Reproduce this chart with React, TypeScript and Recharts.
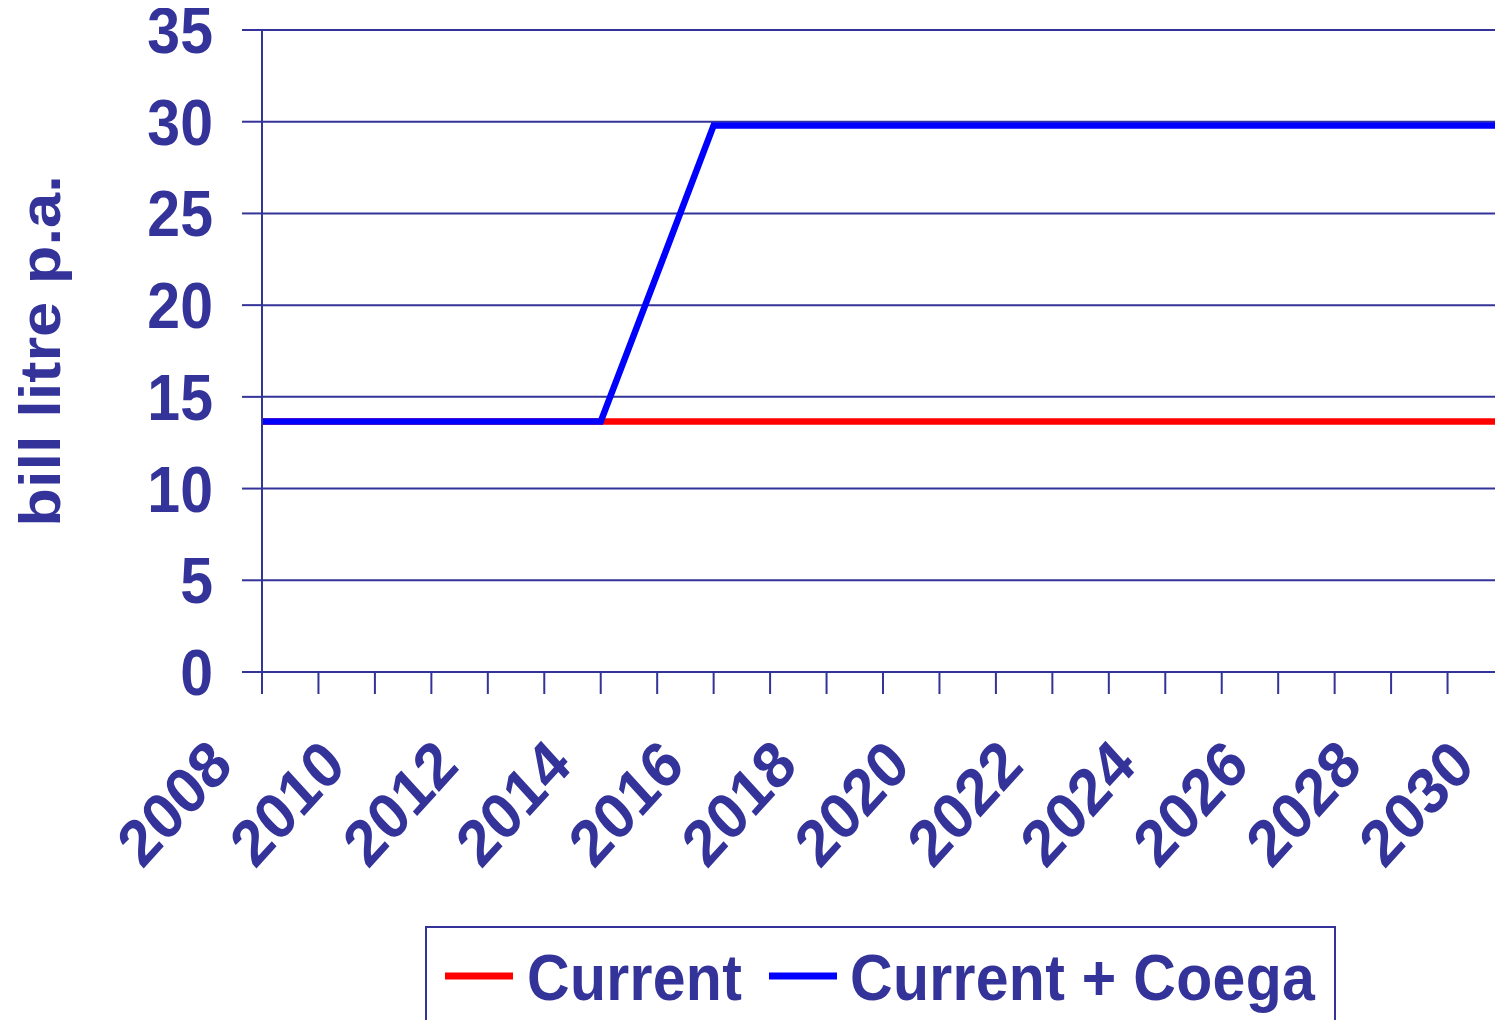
import React from 'react';
import { LineChart, Line, XAxis, YAxis, CartesianGrid, Legend } from 'recharts';

const years = [
  '2008', '2009', '2010', '2011', '2012', '2013', '2014', '2015', '2016', '2017', '2018', '2019',
  '2020', '2021', '2022', '2023', '2024', '2025', '2026', '2027', '2028', '2029', '2030',
];
const currentValues = [
  13.65, 13.65, 13.65, 13.65, 13.65, 13.65, 13.65, 13.65, 13.65, 13.65, 13.65, 13.65,
  13.65, 13.65, 13.65, 13.65, 13.65, 13.65, 13.65, 13.65, 13.65, 13.65, 13.65,
];
const coegaValues = [
  13.65, 13.65, 13.65, 13.65, 13.65, 13.65, 13.65, 21.7, 29.8, 29.8, 29.8, 29.8,
  29.8, 29.8, 29.8, 29.8, 29.8, 29.8, 29.8, 29.8, 29.8, 29.8, 29.8,
];
const yTicks = [0, 5, 10, 15, 20, 25, 30, 35];
const labelledYears = ['2008', '2010', '2012', '2014', '2016', '2018', '2020', '2022', '2024', '2026', '2028', '2030'];
const seriesNames = ['Current', 'Current + Coega'];
const seriesColors = ['#FF0000', '#0000FF'];
const yAxisTitle = 'bill litre p.a.';

const data = years.map((year, i) => ({
  year,
  current: currentValues[i],
  coega: coegaValues[i],
}));

const NAVY = '#333399';
const FONT = '"Liberation Sans", Arial, sans-serif';
const FONT_SIZE = 59;
const STRETCH = 1.1;

const YTick = (props: any) => {
  const { x, y, payload } = props;
  return (
    <g transform={`translate(${x},${y + 23}) scale(1,${STRETCH})`}>
      <text x={0} y={0} textAnchor="end" fill={NAVY} fontFamily={FONT} fontWeight="bold" fontSize={FONT_SIZE}>
        {payload.value}
      </text>
    </g>
  );
};

const XTick = (props: any) => {
  const { x, y, payload } = props;
  if (!labelledYears.includes(String(payload.value))) return <g />;
  return (
    <g transform={`translate(${x - 27},${y}) scale(1,${STRETCH}) rotate(-45)`}>
      <text x={0} y={0} textAnchor="end" fill={NAVY} fontFamily={FONT} fontWeight="bold" fontSize={FONT_SIZE}>
        {payload.value}
      </text>
    </g>
  );
};

const YLabel = (props: any) => {
  const vb = props.viewBox || { x: 0, y: 22, width: 254, height: 642 };
  const cx = vb.x + 52;
  const cy = vb.y + vb.height / 2;
  return (
    <g transform={`translate(${cx},${cy}) scale(1,${STRETCH}) rotate(-90)`}>
      <text x={0} y={0} textAnchor="middle" fill={NAVY} fontFamily={FONT} fontWeight="bold" fontSize={57.5}>
        {yAxisTitle}
      </text>
    </g>
  );
};

const legendLayout = [
  { lineX1: 20, lineX2: 88, textX: 102 },
  { lineX1: 344, lineX2: 412, textX: 425 },
];

const renderLegend = (props: any) => {
  const items = props.payload || [];
  return (
    <svg width={912} height={110} style={{ display: 'block' }}>
      <rect x={1} y={1} width={909} height={300} fill="none" stroke={NAVY} strokeWidth={2} />
      {items.map((item: any, i: number) => {
        const pos = legendLayout[i] || legendLayout[0];
        return (
          <g key={i}>
            <line x1={pos.lineX1} x2={pos.lineX2} y1={50} y2={50} stroke={item.color} strokeWidth={7} />
            <g transform={`translate(${pos.textX},74) scale(1,${STRETCH})`}>
              <text x={0} y={0} fill={NAVY} fontFamily={FONT} fontWeight="bold" fontSize={FONT_SIZE} letterSpacing={0.3}>
                {item.value}
              </text>
            </g>
          </g>
        );
      })}
    </svg>
  );
};

export default function App() {
  return (
    <div
      style={{
        position: 'absolute',
        left: 0,
        top: 0,
        width: 1495,
        height: 1020,
        overflow: 'hidden',
        background: '#fff',
      }}
    >
      <div style={{ position: 'absolute', left: 8, top: 8 }}>
        <LineChart
          width={1520}
          height={1100}
          data={data}
          margin={{ top: 22, right: 24, bottom: 286, left: 0 }}
        >
          <CartesianGrid vertical={false} stroke={NAVY} strokeWidth={2} />
          <XAxis
            dataKey="year"
            interval={0}
            height={150}
            tickSize={22}
            tickMargin={74}
            axisLine={{ stroke: NAVY, strokeWidth: 2 }}
            tickLine={{ stroke: NAVY, strokeWidth: 2 }}
            tick={<XTick />}
          />
          <YAxis
            domain={[0, 35]}
            ticks={yTicks}
            interval={0}
            width={254}
            tickSize={20}
            tickMargin={29}
            axisLine={{ stroke: NAVY, strokeWidth: 2 }}
            tickLine={{ stroke: NAVY, strokeWidth: 2 }}
            tick={<YTick />}
            label={{ content: (p: any) => <YLabel {...p} /> }}
          />
          <Legend
            layout="horizontal"
            verticalAlign="middle"
            align="center"
            wrapperStyle={{ position: 'absolute', left: 417, top: 918, width: 912, height: 110 }}
            content={renderLegend}
          />
          <Line
            type="linear"
            dataKey="current"
            name={seriesNames[0]}
            stroke={seriesColors[0]}
            strokeWidth={6.5}
            dot={false}
            isAnimationActive={false}
          />
          <Line
            type="linear"
            dataKey="coega"
            name={seriesNames[1]}
            stroke={seriesColors[1]}
            strokeWidth={6.5}
            dot={false}
            isAnimationActive={false}
          />
        </LineChart>
      </div>
    </div>
  );
}
